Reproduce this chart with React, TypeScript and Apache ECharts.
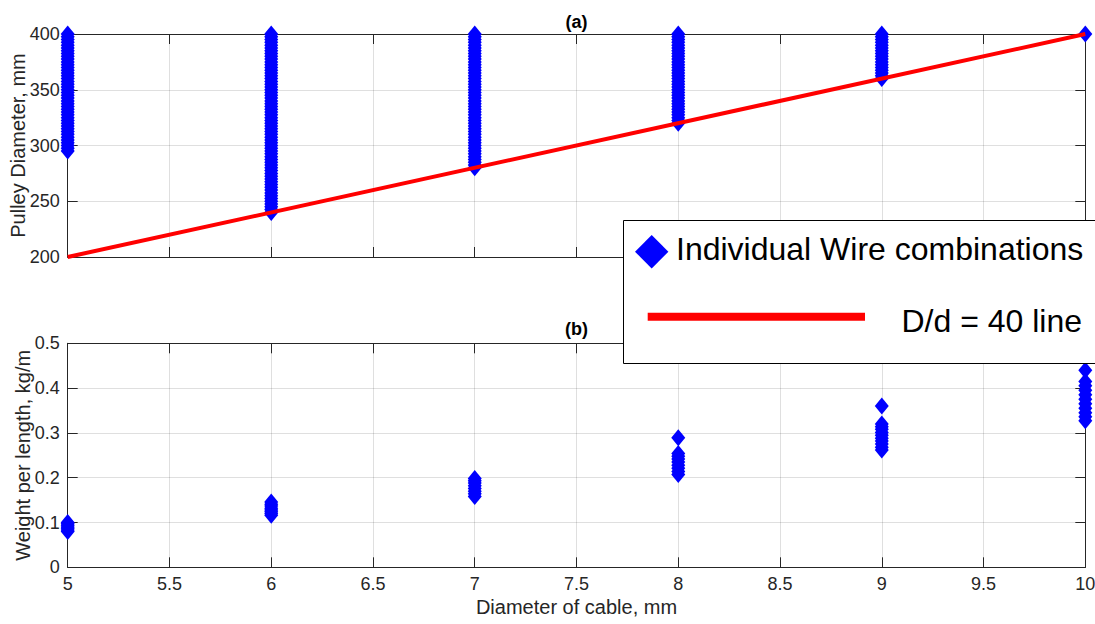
import React, { useEffect, useRef } from "react";
import * as echarts from "echarts";

// ---- Data ----
const diameters = [5, 6, 7, 8, 9, 10];

const pulley5 = [295, 297.5, 300, 302.5, 305, 307.5, 310, 312.5, 315, 317.5, 320, 322.5, 325, 327.5, 330, 332.5, 335, 337.5, 340, 342.5, 345, 347.5, 350, 352.5, 355, 357.5, 360, 362.5, 365, 367.5, 370, 372.5, 375, 377.5, 380, 382.5, 385, 387.5, 390, 392.5, 395, 397.5, 400];
const pulley6 = [240, 242.5, 245, 247.5, 250, 252.5, 255, 257.5, 260, 262.5, 265, 267.5, 270, 272.5, 275, 277.5, 280, 282.5, 285, 287.5, 290, 292.5, 295, 297.5, 300, 302.5, 305, 307.5, 310, 312.5, 315, 317.5, 320, 322.5, 325, 327.5, 330, 332.5, 335, 337.5, 340, 342.5, 345, 347.5, 350, 352.5, 355, 357.5, 360, 362.5, 365, 367.5, 370, 372.5, 375, 377.5, 380, 382.5, 385, 387.5, 390, 392.5, 395, 397.5, 400];
const pulley7 = [280, 282.5, 285, 287.5, 290, 292.5, 295, 297.5, 300, 302.5, 305, 307.5, 310, 312.5, 315, 317.5, 320, 322.5, 325, 327.5, 330, 332.5, 335, 337.5, 340, 342.5, 345, 347.5, 350, 352.5, 355, 357.5, 360, 362.5, 365, 367.5, 370, 372.5, 375, 377.5, 380, 382.5, 385, 387.5, 390, 392.5, 395, 397.5, 400];
const pulley8 = [320, 322.5, 325, 327.5, 330, 332.5, 335, 337.5, 340, 342.5, 345, 347.5, 350, 352.5, 355, 357.5, 360, 362.5, 365, 367.5, 370, 372.5, 375, 377.5, 380, 382.5, 385, 387.5, 390, 392.5, 395, 397.5, 400];
const pulley9 = [360, 362.5, 365, 367.5, 370, 372.5, 375, 377.5, 380, 382.5, 385, 387.5, 390, 392.5, 395, 397.5, 400];
const pulley10 = [400];

const weight5 = [0.08, 0.083, 0.087, 0.09, 0.094, 0.097, 0.1];
const weight6 = [0.116, 0.12, 0.124, 0.128, 0.132, 0.137, 0.141, 0.146];
const weight7 = [0.158, 0.164, 0.17, 0.176, 0.182, 0.188, 0.193, 0.198];
const weight8 = [0.207, 0.214, 0.221, 0.228, 0.235, 0.242, 0.248, 0.254, 0.289];
const weight9 = [0.262, 0.268, 0.275, 0.282, 0.288, 0.295, 0.301, 0.308, 0.314, 0.32, 0.36];
const weight10 = [0.327, 0.336, 0.345, 0.355, 0.365, 0.375, 0.385, 0.395, 0.405, 0.415, 0.44, 0.47];

const ratioLineX = [5, 10];
const ratioLineY = [200, 400];

const xTicks = { min: 5, max: 10, interval: 0.5 };
const pulleyTicks = { min: 200, max: 400, interval: 50 };
const weightTicks = { min: 0, max: 0.5, interval: 0.1 };

const legendLabels = ["Individual Wire combinations", "D/d = 40 line"];

// ---- Build ----
const pulleyGroups = [pulley5, pulley6, pulley7, pulley8, pulley9, pulley10];
const weightGroups = [weight5, weight6, weight7, weight8, weight9, weight10];
const pulleyData: number[][] = [];
pulleyGroups.forEach((g, i) => g.forEach((v) => pulleyData.push([diameters[i], v])));
const weightData: number[][] = [];
weightGroups.forEach((g, i) => g.forEach((v) => weightData.push([diameters[i], v])));
const ratioData = ratioLineX.map((x, i) => [x, ratioLineY[i]]);

const TXT = "#262626";
const FONT = "'Liberation Sans', Arial, Helvetica, sans-serif";
const GRIDLINE = "rgba(38,38,38,0.15)";

function xAx(grid: number, pos: "top" | "bottom", labels: boolean, split: boolean, name?: string) {
  return {
    type: "value",
    gridIndex: grid,
    position: pos,
    ...xTicks,
    name: name,
    nameLocation: "middle",
    nameGap: 30,
    nameMoveOverlap: false,
    nameTextStyle: { fontSize: 20, color: TXT, fontFamily: FONT },
    axisLine: { show: true, onZero: false, lineStyle: { color: TXT, width: 1 } },
    axisTick: { show: true, inside: true, length: 10, lineStyle: { color: TXT } },
    axisLabel: { show: labels, fontSize: 18, color: TXT, margin: 8, fontFamily: FONT },
    splitLine: { show: split, lineStyle: { color: GRIDLINE, width: 1 } },
  };
}

function yAx(grid: number, pos: "left" | "right", ticks: any, labels: boolean, split: boolean, name?: string, gap?: number) {
  return {
    type: "value",
    gridIndex: grid,
    position: pos,
    ...ticks,
    name: name,
    nameLocation: "middle",
    nameGap: gap ?? 40,
    nameMoveOverlap: false,
    nameTextStyle: { fontSize: 20, color: TXT, fontFamily: FONT },
    axisLine: { show: true, onZero: false, lineStyle: { color: TXT, width: 1 } },
    axisTick: { show: true, inside: true, length: 10, lineStyle: { color: TXT } },
    axisLabel: { show: labels, fontSize: 18, color: TXT, margin: 8, fontFamily: FONT },
    splitLine: { show: split, lineStyle: { color: GRIDLINE, width: 1 } },
  };
}

export default function App() {
  const ref = useRef<HTMLDivElement>(null);
  useEffect(() => {
    document.body.style.margin = "0";
    if (!ref.current) return;
    const chart = echarts.init(ref.current, null, { renderer: "svg" });
    const left = 67.7;
    const right = 9.7;
    const option: any = {
      animation: false,
      backgroundColor: "#ffffff",
      textStyle: { fontFamily: FONT },
      grid: [
        { left, right, top: 34, height: 223, containLabel: false, outerBoundsMode: "none" },
        { left, right, top: 343.3, height: 224, containLabel: false, outerBoundsMode: "none" },
      ],
      xAxis: [
        xAx(0, "bottom", false, true),
        xAx(0, "top", false, false),
        xAx(1, "bottom", true, true, "Diameter of cable, mm"),
        xAx(1, "top", false, false),
      ],
      yAxis: [
        yAx(0, "left", pulleyTicks, true, true, "Pulley Diameter, mm", 39.5),
        yAx(0, "right", pulleyTicks, false, false),
        yAx(1, "left", weightTicks, true, true, "Weight per length, kg/m", 35),
        yAx(1, "right", weightTicks, false, false),
      ],
      series: [
        {
          type: "scatter",
          xAxisIndex: 0,
          yAxisIndex: 0,
          data: pulleyData,
          symbol: "diamond",
          symbolSize: [14, 17],
          itemStyle: { color: "#0000ff", opacity: 1 },
          z: 2,
        },
        {
          type: "line",
          xAxisIndex: 0,
          yAxisIndex: 0,
          data: ratioData,
          showSymbol: false,
          symbol: "none",
          lineStyle: { color: "#ff0000", width: 4 },
          z: 3,
        },
        {
          type: "scatter",
          xAxisIndex: 2,
          yAxisIndex: 2,
          data: weightData,
          symbol: "diamond",
          symbolSize: [14, 17],
          itemStyle: { color: "#0000ff", opacity: 1 },
          z: 2,
        },
      ],
      graphic: [
        {
          type: "text",
          x: 576.5,
          y: 21.5,
          z: 50,
          style: { text: "(a)", fill: "#000", fontSize: 18, fontWeight: "bold", fontFamily: FONT, align: "center", verticalAlign: "middle" },
        },
        {
          type: "text",
          x: 576.5,
          y: 329,
          z: 50,
          style: { text: "(b)", fill: "#000", fontSize: 18, fontWeight: "bold", fontFamily: FONT, align: "center", verticalAlign: "middle" },
        },
        {
          type: "group",
          z: 100,
          children: [
            {
              type: "rect",
              z: 100,
              shape: { x: 623.5, y: 220.5, width: 500, height: 143 },
              style: { fill: "#ffffff", stroke: "#000000", lineWidth: 1 },
            },
            {
              type: "polygon",
              z: 101,
              shape: { points: [[651.7, 235], [668.4, 251.7], [651.7, 268.4], [635, 251.7]] },
              style: { fill: "#0000ff" },
            },
            {
              type: "text",
              z: 101,
              x: 676,
              y: 248.5,
              style: { text: legendLabels[0], fill: "#000", fontSize: 32, fontFamily: FONT, align: "left", verticalAlign: "middle" },
            },
            {
              type: "rect",
              z: 101,
              shape: { x: 647.7, y: 312.7, width: 217.3, height: 8 },
              style: { fill: "#ff0000" },
            },
            {
              type: "text",
              z: 101,
              x: 1082,
              y: 321,
              style: { text: legendLabels[1], fill: "#000", fontSize: 32, fontFamily: FONT, align: "right", verticalAlign: "middle" },
            },
          ],
        },
      ],
    };
    chart.setOption(option);
    return () => chart.dispose();
  }, []);
  return <div ref={ref} style={{ width: 1095, height: 624 }} />;
}
